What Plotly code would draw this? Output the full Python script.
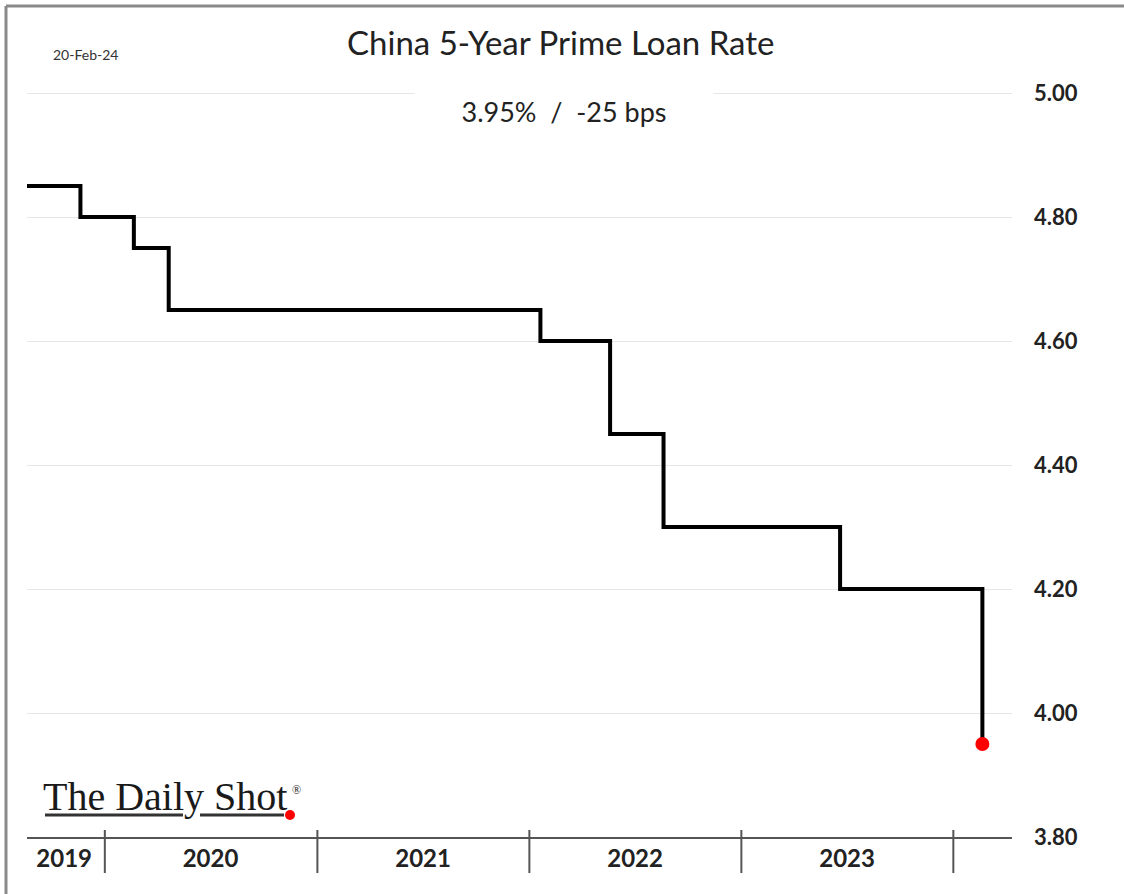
import plotly.graph_objects as go

# ---- data ----
months = [
    "2019-08", "2019-09", "2019-10", "2019-11", "2019-12",
    "2020-01", "2020-02", "2020-03", "2020-04", "2020-05", "2020-06",
    "2020-07", "2020-08", "2020-09", "2020-10", "2020-11", "2020-12",
    "2021-01", "2021-02", "2021-03", "2021-04", "2021-05", "2021-06",
    "2021-07", "2021-08", "2021-09", "2021-10", "2021-11", "2021-12",
    "2022-01", "2022-02", "2022-03", "2022-04", "2022-05", "2022-06",
    "2022-07", "2022-08", "2022-09", "2022-10", "2022-11", "2022-12",
    "2023-01", "2023-02", "2023-03", "2023-04", "2023-05", "2023-06",
    "2023-07", "2023-08", "2023-09", "2023-10", "2023-11", "2023-12",
    "2024-01", "2024-02",
]
lpr_5y = [
    4.85, 4.85, 4.85, 4.80, 4.80,
    4.80, 4.75, 4.75, 4.65, 4.65, 4.65,
    4.65, 4.65, 4.65, 4.65, 4.65, 4.65,
    4.65, 4.65, 4.65, 4.65, 4.65, 4.65,
    4.65, 4.65, 4.65, 4.65, 4.65, 4.65,
    4.60, 4.60, 4.60, 4.60, 4.45, 4.45,
    4.45, 4.30, 4.30, 4.30, 4.30, 4.30,
    4.30, 4.30, 4.30, 4.30, 4.30, 4.20,
    4.20, 4.20, 4.20, 4.20, 4.20, 4.20,
    4.20, 3.95,
]
dates = [m + "-20" for m in months]

year_labels = ["2019", "2020", "2021", "2022", "2023"]
year_label_dates = ["2019-10-23", "2020-07-01", "2021-07-02", "2022-07-02", "2023-07-02"]
year_boundaries = ["2020-01-01", "2021-01-01", "2022-01-01", "2023-01-01", "2024-01-01"]

y_ticks = [3.80, 4.00, 4.20, 4.40, 4.60, 4.80, 5.00]
y_ticktext = ["3.80", "4.00", "4.20", "4.40", "4.60", "4.80", "5.00"]

title_text = "China 5-Year Prime Loan Rate"
subtitle_text = "3.95%  /  -25 bps"
date_text = "20-Feb-24"

# ---- layout geometry ----
W, H = 1124, 894
L, R, T, B = 27, 112, 60, 57
PW, PH = W - L - R, H - T - B


def px(xp):
    return (xp - L) / PW


def py(yp):
    return (H - B - yp) / PH


fig = go.Figure()
fig.add_trace(go.Scatter(
    x=dates, y=lpr_5y, mode="lines", line=dict(color="black", width=4, shape="hv"),
    hoverinfo="x+y", showlegend=False,
))
fig.add_trace(go.Scatter(
    x=[dates[-1]], y=[lpr_5y[-1]], mode="markers",
    marker=dict(color="#ff0000", size=14), showlegend=False,
))

shapes = []
for d in year_boundaries:
    shapes.append(dict(type="line", xref="x", yref="paper", x0=d, x1=d,
                       y0=py(873), y1=py(830), line=dict(color="#555555", width=2)))
# outer frame (top and left)
shapes.append(dict(type="line", xref="paper", yref="paper", x0=px(6), x1=px(1130),
                   y0=py(6), y1=py(6), line=dict(color="#8a8a8a", width=3)))
shapes.append(dict(type="line", xref="paper", yref="paper", x0=px(6), x1=px(6),
                   y0=py(6), y1=py(900), line=dict(color="#8a8a8a", width=3)))
# logo underline and dot
shapes.append(dict(type="line", xref="paper", yref="paper", x0=px(45), x1=px(183),
                   y0=py(815), y1=py(815), line=dict(color="#333333", width=3)))
shapes.append(dict(type="line", xref="paper", yref="paper", x0=px(200), x1=px(284),
                   y0=py(815), y1=py(815), line=dict(color="#333333", width=3)))
shapes.append(dict(type="circle", xref="paper", yref="paper", x0=px(285), x1=px(295),
                   y0=py(820), y1=py(810), fillcolor="#ff0000", line=dict(width=0)))

annotations = [
    dict(text=title_text, xref="paper", yref="paper", x=px(560), y=py(42),
         xanchor="center", yanchor="middle", showarrow=False,
         font=dict(family="Lato", size=33, color="#222222")),
    dict(text=subtitle_text, xref="paper", yref="paper", x=px(564), y=py(111),
         xanchor="center", yanchor="middle", showarrow=False, width=296, height=36,
         bgcolor="white", font=dict(family="Lato", size=27, color="#222222")),
    dict(text=date_text, xref="paper", yref="paper", x=px(85), y=py(55),
         xanchor="center", yanchor="middle", showarrow=False,
         font=dict(family="Lato", size=14, color="#333333")),
    dict(text="The Daily Shot", xref="paper", yref="paper", x=px(41), y=py(796),
         xanchor="left", yanchor="middle", showarrow=False,
         font=dict(family="Liberation Serif", size=40, color="#1a1a1a")),
    dict(text="®", xref="paper", yref="paper", x=px(296), y=py(790),
         xanchor="center", yanchor="middle", showarrow=False,
         font=dict(family="Liberation Serif", size=12, color="#1a1a1a")),
]

fig.update_layout(
    width=W, height=H,
    margin=dict(l=L, r=R, t=T, b=B),
    paper_bgcolor="white", plot_bgcolor="white",
    shapes=shapes, annotations=annotations,
    xaxis=dict(
        range=["2019-08-20", "2024-04-11"],
        tickvals=year_label_dates, ticktext=year_labels,
        tickfont=dict(family="Lato", size=24, color="#222222", weight="bold"),
        showgrid=False, zeroline=False, ticks="", ticklabelstandoff=-1,
        showline=True, linecolor="#555555", linewidth=2,
    ),
    yaxis=dict(
        side="right", range=[3.80, 3.80 + PH / 620.0],
        tickvals=y_ticks, ticktext=y_ticktext,
        tickfont=dict(family="Lato", size=22, color="#222222", weight="bold"),
        showgrid=True, gridcolor="#e6e6e6", gridwidth=1,
        zeroline=False, ticks="", ticklabelstandoff=21, showline=False,
    ),
)

fig.write_html("out.html")
